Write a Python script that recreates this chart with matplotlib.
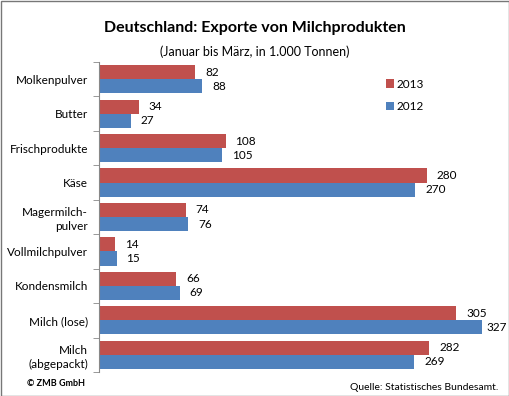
import matplotlib.pyplot as plt
import numpy as np

plt.rcParams['font.family'] = ['Lato', 'DejaVu Sans']

categories = ['Molkenpulver', 'Butter', 'Frischprodukte', 'Käse', 'Magermilch-\npulver',
              'Vollmilchpulver', 'Kondensmilch', 'Milch (lose)', 'Milch\n(abgepackt)']
v2013 = [82, 34, 108, 280, 74, 14, 66, 305, 282]
v2012 = [88, 27, 105, 270, 76, 15, 69, 327, 269]

red = '#C0504D'
blue = '#4F81BD'

fig = plt.figure(figsize=(5.10, 3.96), dpi=100)
W, H = 510.0, 396.0
ax = fig.add_axes([99 / W, 1 - 372 / H, (509 - 99) / W, (372 - 62) / H])

y = np.arange(len(categories))
h = 0.41
ax.barh(y - h / 2, v2013, height=h, color=red, label='2013')
ax.barh(y + h / 2, v2012, height=h, color=blue, label='2012')

# labels next to bar ends, pulled in if they would run off the right edge
for yi, a, b in zip(y, v2013, v2012):
    ax.text(min(a + 8.5, 331), yi - h / 2, str(a), va='center', ha='left', fontsize=8.5)
    ax.text(min(b + 8.5, 331), yi + h / 2, str(b), va='center', ha='left', fontsize=8.5)

ax.set_xlim(0, 350)
ax.set_ylim(len(categories) - 0.5, -0.5)
ax.set_yticks(y)
ax.set_yticklabels(categories, fontsize=8.5, linespacing=1.3)
ax.set_yticks(np.arange(len(categories) + 1) - 0.5, minor=True)
ax.tick_params(axis='y', which='major', length=0, pad=8)
ax.tick_params(axis='y', which='minor', length=4, color='#888888', direction='out')
ax.set_xticks([])
for s in ['top', 'right', 'bottom']:
    ax.spines[s].set_visible(False)
ax.spines['left'].set_color('#888888')
ax.spines['left'].set_linewidth(0.8)

leg = ax.legend(loc='upper left', bbox_to_anchor=(375 / W, 1 - 68 / H), bbox_transform=fig.transFigure,
                frameon=False, fontsize=8.5, handlelength=0.7, handleheight=0.7,
                handletextpad=0.2, labelspacing=1.0)

fig.text(0.5, 1 - 28 / H, 'Deutschland: Exporte von Milchprodukten', ha='center', va='center',
         fontsize=11.5, fontweight='bold')
fig.text(0.5, 1 - 52 / H, '(Januar bis März, in 1.000 Tonnen)', ha='center', va='center', fontsize=9)
fig.text(27 / W, 1 - 384 / H, '© ZMB GmbH', ha='left', va='center', fontsize=6.5, fontweight='bold')
fig.text(498 / W, 1 - 388 / H, 'Quelle: Statistisches Bundesamt.', ha='right', va='center', fontsize=7.5)

border = plt.Rectangle((0.5 / W, 0.5 / H), 1 - 1 / W, 1 - 1 / H, transform=fig.transFigure,
                       fill=False, edgecolor='#777777', linewidth=1.0)
fig.patches.append(border)

fig.savefig('out.png', dpi=100)
